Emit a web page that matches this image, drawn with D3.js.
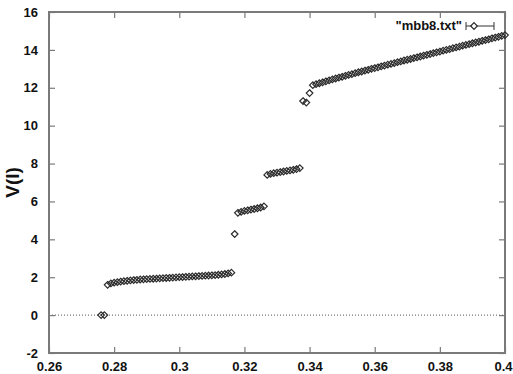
<!DOCTYPE html>
<html><head><meta charset="utf-8">
<script src="https://cdn.jsdelivr.net/npm/d3@7"></script>
<style>
html,body{margin:0;padding:0;background:#fff;}
svg{display:block;font-family:"Liberation Sans",Arial,sans-serif;}
</style></head>
<body>
<svg id="chart" width="513" height="374"></svg>
<script>
// ---- data ----
const xValues = d3.range(125).map(i => +(0.276 + i * 0.001).toFixed(3)); // 0.276 .. 0.400, step 0.001
const seg0 = [0.00, 0.00];
const seg1 = [1.60,1.67,1.71,1.74,1.77,1.79,1.81,1.83,1.85,1.86,1.88,1.89,1.90,1.91,1.92,1.93,1.94,1.95,1.96,1.97,1.98,1.99,2.00,2.01,2.02,2.03,2.04,2.05,2.06,2.07,2.08,2.09,2.10,2.11,2.13,2.15,2.17,2.20,2.24];
const seg2 = [4.28];
const seg3 = [5.40,5.45,5.50,5.53,5.57,5.60,5.64,5.68,5.74];
const seg4 = [7.40,7.45,7.49,7.52,7.55,7.58,7.61,7.64,7.67,7.71,7.76];
const seg5 = [11.30,11.22,11.72];
const seg6 = [12.14,12.19,12.24,12.29,12.34,12.39,12.44,12.49,12.54,12.58,
              12.63,12.68,12.72,12.77,12.82,12.86,12.91,12.95,13.00,13.04,
              13.08,13.13,13.17,13.22,13.26,13.30,13.35,13.39,13.44,13.48,
              13.52,13.57,13.61,13.65,13.70,13.74,13.78,13.83,13.87,13.91,
              13.96,14.00,14.04,14.09,14.13,14.17,14.22,14.26,14.30,14.35,
              14.39,14.43,14.48,14.52,14.56,14.61,14.65,14.69,14.74,14.78];
const yValues = [].concat(seg0, seg1, seg2, seg3, seg4, seg5, seg6);
const xTicks = [0.26,0.28,0.3,0.32,0.34,0.36,0.38,0.4];
const yTicks = [-2,0,2,4,6,8,10,12,14,16];
const seriesName = '"mbb8.txt"';
const yLabel = "V(I)";

// ---- layout ----
const svg = d3.select("#chart");
const L = 49, R = 505, T = 12, B = 353;
const x = d3.scaleLinear().domain([0.26, 0.4]).range([L, R]);
const y = d3.scaleLinear().domain([-2, 16]).range([B, T]);
const frameColor = "#7a7a7a";
const tickLen = 6;

// zero line (dotted)
svg.append("line")
  .attr("x1", L).attr("x2", R).attr("y1", y(0)).attr("y2", y(0))
  .attr("stroke", "#555").attr("stroke-width", 1).attr("stroke-dasharray", "1,2");

// axes with inward ticks, mirrored
const fmt = d => String(d);
const axB = d3.axisBottom(x).tickValues(xTicks).tickSize(-tickLen).tickPadding(tickLen + 3).tickFormat(fmt);
const axT = d3.axisTop(x).tickValues(xTicks).tickSize(-tickLen).tickFormat("");
const axL = d3.axisLeft(y).tickValues(yTicks).tickSize(-tickLen).tickPadding(tickLen + 5).tickFormat(fmt);
const axR = d3.axisRight(y).tickValues(yTicks).tickSize(-tickLen).tickFormat("");

function styleAxis(g) {
  g.select(".domain").remove();
  g.selectAll(".tick line").attr("stroke", frameColor).attr("stroke-width", 1.2);
  g.selectAll(".tick text").attr("fill", "#111").attr("font-size", 13).attr("font-weight", "bold")
    .attr("font-family", "Liberation Sans, Arial, sans-serif");
}
const gB = svg.append("g").attr("transform", `translate(0,${B})`).call(axB).call(styleAxis);
gB.selectAll(".tick text").filter(d => d === 0.4).attr("dx", -2);
svg.append("g").attr("transform", `translate(0,${T})`).call(axT).call(styleAxis);
svg.append("g").attr("transform", `translate(${L},0)`).call(axL).call(styleAxis);
svg.append("g").attr("transform", `translate(${R},0)`).call(axR).call(styleAxis);

// frame
svg.append("rect").attr("x", L).attr("y", T).attr("width", R - L).attr("height", B - T)
  .attr("fill", "none").attr("stroke", frameColor).attr("stroke-width", 2);

// y label
svg.append("text")
  .attr("transform", `translate(19,${(T + B) / 2}) rotate(-90)`)
  .attr("text-anchor", "middle")
  .attr("font-size", 19).attr("font-weight", "bold").attr("fill", "#111")
  .text(yLabel);

// points (diamonds)
const diamond = "M0,-3.3L3.3,0L0,3.3L-3.3,0Z";
svg.append("g").selectAll("path").data(xValues.map((xv, i) => [xv, yValues[i]]))
  .join("path")
  .attr("d", diamond)
  .attr("transform", d => `translate(${x(d[0])},${y(d[1])})`)
  .attr("fill", "none").attr("stroke", "#2a2a2a").attr("stroke-width", 1.2);

// legend
const lg = svg.append("g");
lg.append("text").attr("x", 462).attr("y", 30).attr("text-anchor", "end")
  .attr("font-size", 13).attr("font-weight", "bold").attr("fill", "#111").text(seriesName);
lg.append("line").attr("x1", 466).attr("x2", 494).attr("y1", 26).attr("y2", 26).attr("stroke", "#333").attr("stroke-width", 1);
lg.append("line").attr("x1", 466).attr("x2", 466).attr("y1", 22).attr("y2", 30).attr("stroke", "#333").attr("stroke-width", 1);
lg.append("line").attr("x1", 494).attr("x2", 494).attr("y1", 22).attr("y2", 30).attr("stroke", "#333").attr("stroke-width", 1);
lg.append("path").attr("d", diamond).attr("transform", "translate(474,26)")
  .attr("fill", "#fff").attr("stroke", "#2a2a2a").attr("stroke-width", 1.2);
</script>
</body></html>
